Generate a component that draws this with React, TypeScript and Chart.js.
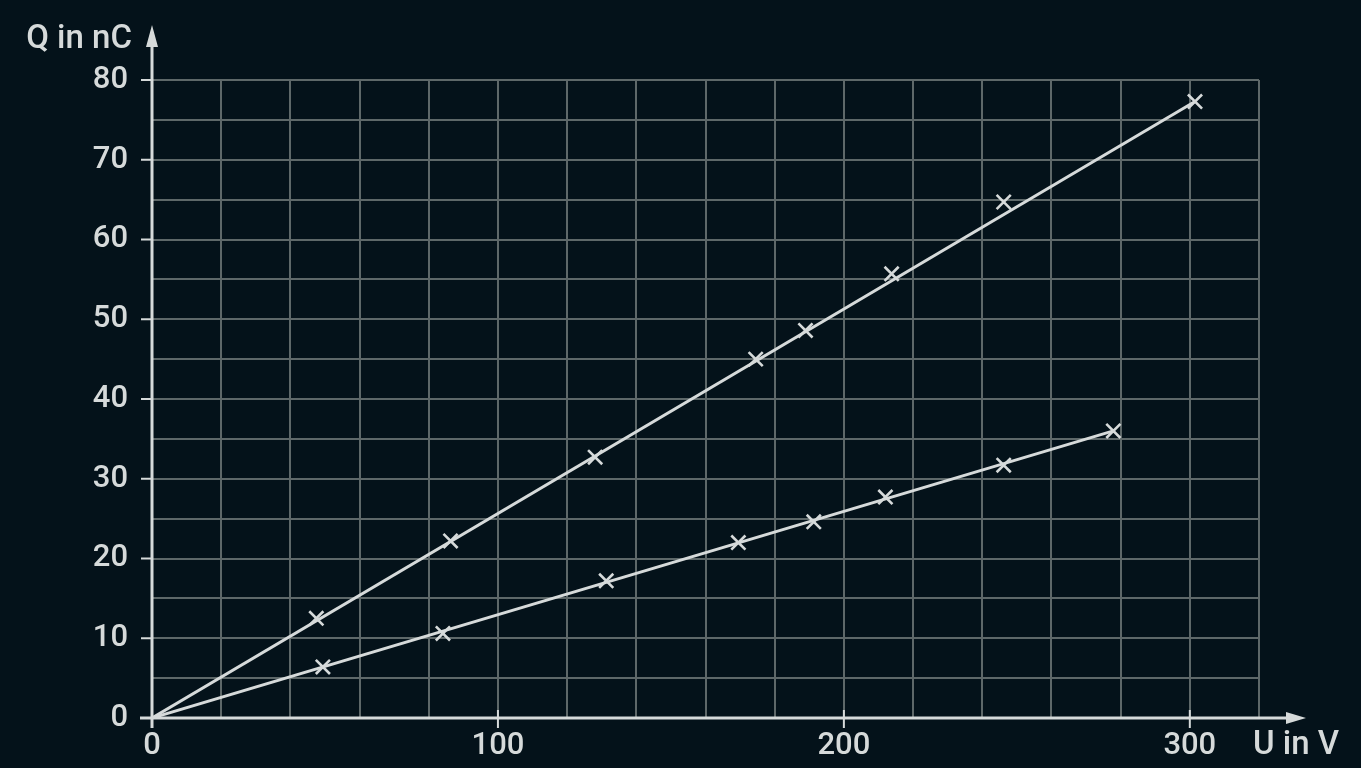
import { useEffect, useRef } from "react";
import { Chart } from "chart.js/auto";

// measured values, upper series
const uUpper = [47.5, 86.3, 128.1, 174.5, 188.9, 213.8, 246.2, 301.5];
const qUpper = [12.5, 22.2, 32.7, 45.0, 48.6, 55.7, 64.7, 77.3];

// measured values, lower series
const uLower = [49.4, 84.1, 131.3, 169.5, 191.3, 212.0, 246.2, 277.9];
const qLower = [6.4, 10.6, 17.2, 22.0, 24.6, 27.7, 31.7, 36.0];

const xMax = 320;
const yMax = 80;
const xLabelTicks = [0, 100, 200, 300];
const yLabelTicks = [0, 10, 20, 30, 40, 50, 60, 70, 80];

const BG = "#04121a";
const FG = "#d6dada";
const GRID = "#5e6869";
const FONT = "Roboto, 'Noto Sans', sans-serif";

const toPoints = (xs: number[], ys: number[]) => xs.map((x, i) => ({ x, y: ys[i] }));
// straight line from origin to the last measured point
const fitLine = (xs: number[], ys: number[]) => [
    { x: 0, y: 0 },
    { x: xs[xs.length - 1], y: ys[ys.length - 1] },
];

const axesPlugin = {
    id: "axesArrows",
    beforeDatasetsDraw(chart: any) {
        const { ctx, scales } = chart;
        const x0 = scales.x.getPixelForValue(0);
        const y0 = scales.y.getPixelForValue(0);
        const xEnd = scales.x.getPixelForValue(xMax);
        const yTop = scales.y.getPixelForValue(yMax);
        ctx.save();
        ctx.strokeStyle = FG;
        ctx.fillStyle = FG;
        ctx.lineWidth = 3;
        // x axis
        ctx.beginPath();
        ctx.moveTo(x0 - 12, y0);
        ctx.lineTo(xEnd + 30, y0);
        ctx.stroke();
        ctx.beginPath();
        ctx.moveTo(xEnd + 47, y0);
        ctx.lineTo(xEnd + 27, y0 - 6);
        ctx.lineTo(xEnd + 27, y0 + 6);
        ctx.closePath();
        ctx.fill();
        // y axis
        ctx.beginPath();
        ctx.moveTo(x0, y0 + 10);
        ctx.lineTo(x0, yTop - 36);
        ctx.stroke();
        ctx.beginPath();
        ctx.moveTo(x0, yTop - 55);
        ctx.lineTo(x0 - 6, yTop - 33);
        ctx.lineTo(x0 + 6, yTop - 33);
        ctx.closePath();
        ctx.fill();
        // tick marks
        ctx.lineWidth = 2;
        yLabelTicks.forEach((v) => {
            const py = scales.y.getPixelForValue(v);
            ctx.beginPath();
            ctx.moveTo(x0 - 11, py);
            ctx.lineTo(x0, py);
            ctx.stroke();
        });
        xLabelTicks.forEach((v) => {
            const px = scales.x.getPixelForValue(v);
            ctx.beginPath();
            ctx.moveTo(px, y0 - 8);
            ctx.lineTo(px, y0 + 10);
            ctx.stroke();
        });
        // axis titles
        ctx.font = `500 33px ${FONT}`;
        ctx.textBaseline = "middle";
        ctx.textAlign = "right";
        ctx.fillText("Q in nC", x0 - 20, yTop - 40);
        ctx.textAlign = "left";
        ctx.fillText("U in V", xEnd - 6, y0 + 28);
        ctx.restore();
    },
};

const App = () => {
    const chartRef = useRef<HTMLCanvasElement>(null);
    const chartInstance = useRef<Chart | null>(null);

    useEffect(() => {
        if (!chartRef.current) return;
        if (chartInstance.current) chartInstance.current.destroy();
        const ctx = chartRef.current.getContext("2d");
        if (!ctx) return;

        const lineStyle = {
            type: "line" as const,
            borderColor: FG,
            borderWidth: 3,
            pointRadius: 0,
            fill: false,
            showLine: true,
        };
        const crossStyle = {
            type: "scatter" as const,
            pointStyle: "crossRot",
            pointRadius: 10,
            borderColor: FG,
            pointBorderWidth: 2.6,
            showLine: false,
        };

        chartInstance.current = new Chart(ctx, {
            type: "scatter",
            data: {
                datasets: [
                    { ...lineStyle, data: fitLine(uUpper, qUpper) },
                    { ...lineStyle, data: fitLine(uLower, qLower) },
                    { ...crossStyle, data: toPoints(uUpper, qUpper) },
                    { ...crossStyle, data: toPoints(uLower, qLower) },
                ] as any,
            },
            options: {
                animation: false,
                responsive: true,
                maintainAspectRatio: false,
                layout: { padding: { top: 80, right: 102, left: 0, bottom: 0 } },
                plugins: {
                    legend: { display: false },
                    tooltip: { enabled: false },
                },
                scales: {
                    x: {
                        type: "linear",
                        min: 0,
                        max: xMax,
                        border: { display: false },
                        grid: { color: GRID, lineWidth: 2, drawTicks: false },
                        ticks: {
                            stepSize: 20,
                            autoSkip: false,
                            maxRotation: 0,
                            padding: 10,
                            color: FG,
                            font: { family: FONT, size: 31, weight: "500" },
                            callback: (v: any) => (Number(v) % 100 === 0 ? String(v) : ""),
                        },
                        afterFit: (scale: any) => { scale.height = 50; },
                    },
                    y: {
                        type: "linear",
                        min: 0,
                        max: yMax,
                        border: { display: false },
                        grid: { color: GRID, lineWidth: 2, drawTicks: false },
                        ticks: {
                            stepSize: 5,
                            autoSkip: false,
                            padding: 24,
                            color: FG,
                            font: { family: FONT, size: 31, weight: "500" },
                            callback: (v: any) => (Number(v) % 10 === 0 ? String(v) : ""),
                        },
                        afterFit: (scale: any) => { scale.width = 152; },
                    },
                },
            },
            plugins: [axesPlugin],
        });

        return () => {
            if (chartInstance.current) {
                chartInstance.current.destroy();
                chartInstance.current = null;
            }
        };
    }, []);

    return (
        <div style={{ position: "fixed", left: 0, top: 0, width: 1361, height: 768, background: BG }}>
            <canvas ref={chartRef}></canvas>
        </div>
    );
};

export default App;
